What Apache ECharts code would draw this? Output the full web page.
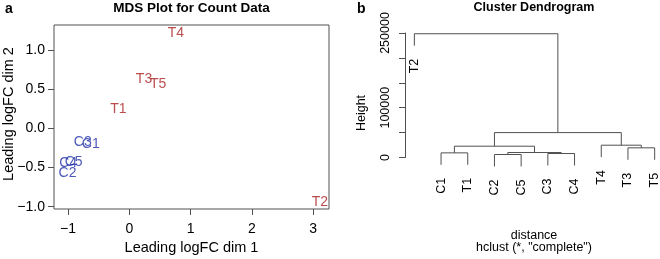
<!DOCTYPE html>
<html>
<head>
<meta charset="utf-8">
<script src="https://cdn.jsdelivr.net/npm/echarts@6/dist/echarts.min.js"></script>
<style>
  html, body { margin: 0; padding: 0; background: #fff; }
  #main { width: 660px; height: 259px; }
</style>
</head>
<body>
<div id="main"></div>
<script>
// panel a: MDS points
var ctrlNames = ['C3', 'C1', 'C4', 'C5', 'C2'];
var ctrlDim1 = [-0.76, -0.63, -1.0, -0.91, -1.01];
var ctrlDim2 = [-0.18, -0.2, -0.45, -0.43, -0.57];
var trtNames = ['T4', 'T3', 'T5', 'T1', 'T2'];
var trtDim1 = [0.76, 0.24, 0.47, -0.18, 3.11];
var trtDim2 = [1.21, 0.63, 0.57, 0.25, -0.94];
var dim1Ticks = [-1, 0, 1, 2, 3];
var dim2Ticks = [-1, -0.5, 0, 0.5, 1];

// panel b: hclust result (leaf order, merges, heights)
var leafOrder = ['T2', 'C1', 'T1', 'C2', 'C5', 'C3', 'C4', 'T4', 'T3', 'T5'];
// negative = leaf position in leafOrder (1-based), positive = earlier merge
var mergeLeft = [-4, -6, -2, 1, -9, 3, -8, 6, -1];
var mergeRight = [-5, -7, -3, 2, -10, 4, 5, 7, 8];
var mergeHeight = [6000, 8000, 9300, 10000, 19400, 22700, 24700, 50000, 248500];
var heightTicks = [0, 50000, 100000, 150000, 200000, 250000];
var heightLabels = [0, 100000, 250000];
var hang = 24000;

var FONT = 'Liberation Sans, Arial, Helvetica, sans-serif';

function pts(xs, ys, names) {
  return xs.map(function (x, i) { return { name: names[i], value: [x, ys[i]] }; });
}
function minus(v) { return String(v).replace('-', '\u2212'); }

var myChart = echarts.init(document.getElementById('main'));

function renderTree(params, api) {
  var xOf = {}, topOf = {};
  var children = [];
  var lineStyle = { stroke: '#505050', lineWidth: 1, fill: null };
  function nodeX(id) {
    return id < 0 ? -id : xOf[id];
  }
  for (var m = 0; m < mergeHeight.length; m++) {
    var id = m + 1, h = mergeHeight[m];
    var l = mergeLeft[m], r = mergeRight[m];
    var xl = nodeX(l), xr = nodeX(r);
    var yl = l < 0 ? h - hang : mergeHeight[l - 1];
    var yr = r < 0 ? h - hang : mergeHeight[r - 1];
    if (l < 0) topOf[-l] = yl;
    if (r < 0) topOf[-r] = yr;
    xOf[id] = (xl + xr) / 2;
    var p1 = api.coord([xl, yl]), p2 = api.coord([xl, h]);
    var p3 = api.coord([xr, h]), p4 = api.coord([xr, yr]);
    children.push({
      type: 'polyline',
      shape: { points: [p1, p2, p3, p4] },
      style: lineStyle
    });
  }
  leafOrder.forEach(function (name, i) {
    var p = api.coord([i + 1, topOf[i + 1]]);
    children.push({
      type: 'text',
      x: p[0], y: p[1] + 13,
      rotation: Math.PI / 2,
      style: {
        text: name, font: '12.5px ' + FONT, fill: '#000',
        align: 'right', verticalAlign: 'middle'
      }
    });
  });
  return { type: 'group', children: children };
}

var option = {
  animation: false,
  grid: [
    { left: 54, top: 25, width: 275, height: 184, show: true, borderColor: '#505050', borderWidth: 1 },
    { left: 405, top: 33, width: 255, height: 124.5 }
  ],
  xAxis: [
    {
      gridIndex: 0, type: 'value', min: -1.23, max: 3.26,
      splitLine: { show: false },
      axisLine: { show: false, onZero: false },
      axisTick: { show: true, length: 6, lineStyle: { color: '#505050' }, customValues: dim1Ticks },
      axisLabel: {
        customValues: dim1Ticks, margin: 13, fontSize: 14, fontFamily: FONT, color: '#000',
        formatter: function (v) { return minus(v); }
      }
    },
    {
      gridIndex: 1, type: 'value', min: 0.65, max: 10.2, show: false
    }
  ],
  yAxis: [
    {
      gridIndex: 0, type: 'value', min: -1.03, max: 1.32,
      splitLine: { show: false },
      axisLine: { show: false, onZero: false },
      axisTick: { show: true, length: 6, lineStyle: { color: '#505050' }, customValues: dim2Ticks },
      axisLabel: {
        customValues: dim2Ticks, margin: 9, fontSize: 14, fontFamily: FONT, color: '#000',
        formatter: function (v) { return minus(v.toFixed(1)); }
      }
    },
    {
      gridIndex: 1, type: 'value', min: 0, max: 250000,
      splitLine: { show: false },
      axisLine: { show: true, onZero: false, lineStyle: { color: '#505050' } },
      axisTick: { show: true, length: 6, lineStyle: { color: '#505050' }, customValues: heightTicks },
      axisLabel: {
        customValues: heightLabels, rotate: 90, margin: 13, fontSize: 12.5, fontFamily: FONT, color: '#000',
        formatter: function (v) { return String(v); }
      }
    }
  ],
  series: [
    {
      type: 'scatter', xAxisIndex: 0, yAxisIndex: 0,
      data: pts(ctrlDim1, ctrlDim2, ctrlNames),
      symbolSize: 1, itemStyle: { color: 'transparent' },
      label: {
        show: true, position: 'inside', formatter: '{b}',
        fontSize: 14, fontFamily: FONT, color: '#1f2fa8'
      }
    },
    {
      type: 'scatter', xAxisIndex: 0, yAxisIndex: 0,
      data: pts(trtDim1, trtDim2, trtNames),
      symbolSize: 1, itemStyle: { color: 'transparent' },
      label: {
        show: true, position: 'inside', formatter: '{b}',
        fontSize: 14, fontFamily: FONT, color: '#a81f1f'
      }
    },
    {
      type: 'custom', xAxisIndex: 1, yAxisIndex: 1,
      data: [[0, 0]], clip: false, silent: true,
      renderItem: renderTree
    }
  ],
  graphic: [
    { type: 'text', left: 5, top: 2, style: { text: 'a', font: 'bold 14px ' + FONT, fill: '#000' } },
    { type: 'text', left: 357, top: 2, style: { text: 'b', font: 'bold 14px ' + FONT, fill: '#000' } },
    { type: 'text', x: 191.5, y: 8, style: { text: 'MDS Plot for Count Data', font: 'bold 13.5px ' + FONT, fill: '#000', align: 'center', verticalAlign: 'middle' } },
    { type: 'text', x: 191.5, y: 248, style: { text: 'Leading logFC dim 1', font: '14.5px ' + FONT, fill: '#000', align: 'center', verticalAlign: 'middle' } },
    { type: 'text', x: 9, y: 114, rotation: Math.PI / 2, style: { text: 'Leading logFC dim 2', font: '14.5px ' + FONT, fill: '#000', align: 'center', verticalAlign: 'middle' } },
    { type: 'text', x: 534, y: 8, style: { text: 'Cluster Dendrogram', font: 'bold 12.5px ' + FONT, fill: '#000', align: 'center', verticalAlign: 'middle' } },
    { type: 'text', x: 362, y: 113, rotation: Math.PI / 2, style: { text: 'Height', font: '12.5px ' + FONT, fill: '#000', align: 'center', verticalAlign: 'middle' } },
    { type: 'text', x: 534, y: 236, style: { text: 'distance', font: '12.5px ' + FONT, fill: '#000', align: 'center', verticalAlign: 'middle' } },
    { type: 'text', x: 534, y: 248, style: { text: 'hclust (*, "complete")', font: '12.5px ' + FONT, fill: '#000', align: 'center', verticalAlign: 'middle' } }
  ]
};

myChart.setOption(option);
window.addEventListener('resize', function () { myChart.resize(); });
</script>
</body>
</html>
